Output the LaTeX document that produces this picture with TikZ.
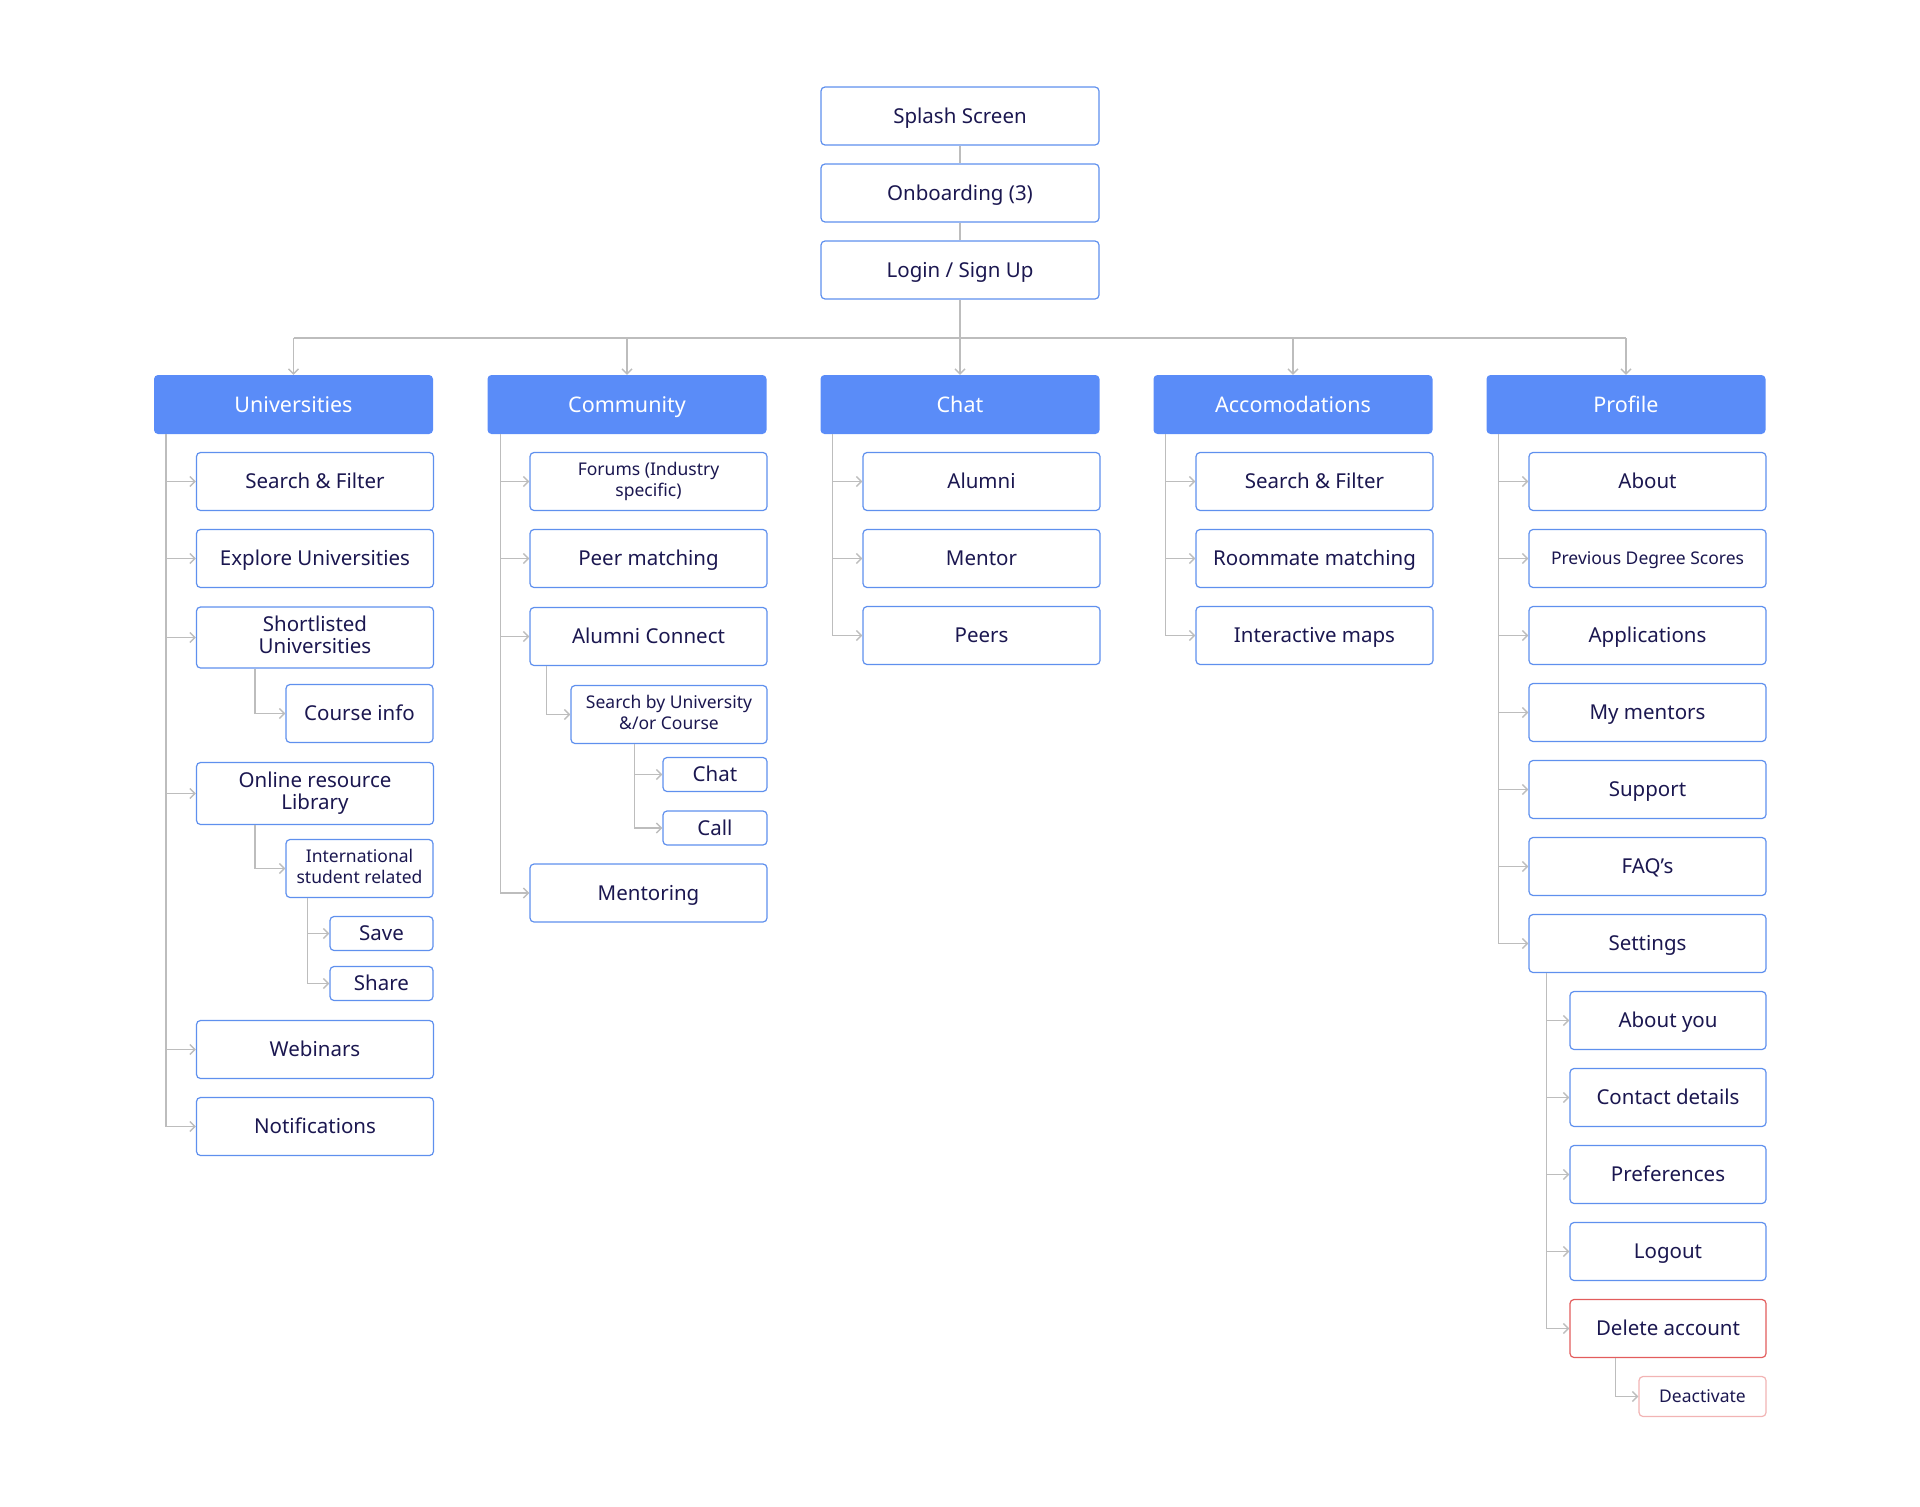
\documentclass[tikz,border=0pt]{standalone}
\usepackage{fontspec}
\setmainfont{Noto Sans}
\usepackage{tikz}
\usetikzlibrary{arrows.meta}

\definecolor{headblue}{HTML}{5A8CF8}
\definecolor{boxblue}{HTML}{5F90EE}
\definecolor{navy}{HTML}{1B1750}
\definecolor{linegray}{HTML}{BDBDBD}
\definecolor{delred}{HTML}{E35D5D}
\definecolor{palered}{HTML}{F2B4B4}

\newcommand{\hdfont}{\fontsize{21.5}{25}\selectfont}
\newcommand{\itfont}{\fontsize{20.5}{22.5}\selectfont}
\newcommand{\smfont}{\fontsize{17.5}{20.5}\selectfont}
\newcommand{\capstrut}{\rule[-0.25em]{0pt}{1.214em}}

\tikzstyle{head} = [rectangle, rounded corners=4pt, minimum width=279pt, minimum height=59pt, fill=headblue, text=white, font=\hdfont, execute at begin node=\capstrut]
\tikzstyle{item} = [rectangle, rounded corners=4pt, minimum width=237pt, minimum height=58pt, inner sep=2pt, draw=boxblue, line width=1.2pt, fill=white, text=navy, font=\itfont, align=center, execute at begin node=\capstrut, execute at end node=\capstrut]
\tikzstyle{subitem} = [item, minimum width=196pt]
\tikzstyle{smallitem} = [item, minimum height=34pt]
\tikzstyle{line} = [draw=linegray, line width=1.4pt]
\tikzstyle{arrow} = [line, -{Straight Barb[length=5pt,width=10pt]}]

\begin{document}
\begin{tikzpicture}[x=1pt, y=1pt, node distance=77pt]
\useasboundingbox (0,0) rectangle (1920,-1507);

\node(splash) [item, minimum width=278pt] at (960,-116) {Splash Screen};
\node(onboard) [item, minimum width=278pt, below of = splash] {Onboarding (3)};
\node(login) [item, minimum width=278pt, below of = onboard] {Login / Sign Up};
\coordinate (hub) at (960,-338);

\node(uni) [head] at (293.5,-404.5) {Universities};
\node(com) [head] at (627,-404.5) {Community};
\node(chat) [head] at (960,-404.5) {Chat};
\node(accom) [head] at (1293,-404.5) {Accomodations};
\node(profile) [head] at (1626,-404.5) {Profile};

% universities
\node(unisearch) [item, below of = uni, xshift=21.5pt] {Search \& Filter};
\node(uniexplore) [item, below of = unisearch] {Explore Universities};
\node(unishort) [item, below of = uniexplore, yshift=-2pt, minimum height=61pt] {Shortlisted\\Universities};
\node(unicourse) [item, below of = unishort, xshift=44.5pt, yshift=1pt, minimum width=147pt] {Course info};
\node(unilib) [item, below of = unicourse, xshift=-44.5pt, yshift=-3pt, minimum height=62pt] {Online resource\\Library};
\node(uniintl) [item, below of = unilib, xshift=44.5pt, yshift=2pt, minimum width=147pt, font=\smfont] {International\\student related};
\node(unisave) [smallitem, below of = uniintl, xshift=22pt, yshift=12pt, minimum width=103pt] {Save};
\node(unishare) [smallitem, below of = unisave, yshift=27pt, minimum width=103pt] {Share};
\node(uniweb) [item, below of = unishare, xshift=-66.5pt, yshift=11pt] {Webinars};
\node(uninotif) [item, below of = uniweb] {Notifications};

% community
\node(comforum) [item, below of = com, xshift=21.5pt, font=\smfont] {Forums (Industry\\specific)};
\node(compeer) [item, below of = comforum] {Peer matching};
\node(comalumni) [item, below of = compeer, yshift=-1pt] {Alumni Connect};
\node(comsearch) [subitem, below of = comalumni, xshift=20.5pt, yshift=-1pt, font=\smfont] {Search by University\\\&/or Course};
\node(comchat) [smallitem, below of = comsearch, xshift=46pt, yshift=17pt, minimum width=104pt] {Chat};
\node(comcall) [smallitem, below of = comchat, yshift=23.5pt, minimum width=104pt] {Call};
\node(comment) [item, below of = comcall, xshift=-66.5pt, yshift=12pt] {Mentoring};

% chat
\node(chatalumni) [item, below of = chat, xshift=21.5pt] {Alumni};
\node(chatmentor) [item, below of = chatalumni] {Mentor};
\node(chatpeers) [item, below of = chatmentor] {Peers};

% accomodations
\node(accsearch) [item, below of = accom, xshift=21.5pt] {Search \& Filter};
\node(accroom) [item, below of = accsearch] {Roommate matching};
\node(accmaps) [item, below of = accroom] {Interactive maps};

% profile
\node(about) [item, below of = profile, xshift=21.5pt] {About};
\node(prevdeg) [item, below of = about, font=\smfont] {Previous Degree Scores};
\node(apps) [item, below of = prevdeg] {Applications};
\node(mentors) [item, below of = apps] {My mentors};
\node(support) [item, below of = mentors] {Support};
\node(faq) [item, below of = support] {FAQ’s};
\node(settings) [item, below of = faq] {Settings};
\node(aboutyou) [subitem, below of = settings, xshift=20.5pt] {About you};
\node(contact) [subitem, below of = aboutyou] {Contact details};
\node(prefs) [subitem, below of = contact] {Preferences};
\node(logout) [subitem, below of = prefs] {Logout};
\node(delete) [subitem, below of = logout, draw=delred] {Delete account};
\node(deact) [item, below of = delete, xshift=34.5pt, yshift=9pt, minimum width=127pt, minimum height=40pt, draw=palered, font=\smfont] {Deactivate};

\draw [line] (splash) -- (onboard);
\draw [line] (onboard) -- (login);
\draw [line] (login) -- (hub);
\draw [line] (uni.north |- hub) -- (profile.north |- hub);
\foreach \h in {uni,com,chat,accom,profile}
  \draw [arrow] (\h.north |- hub) -- (\h);

\foreach \c in {unisearch,uniexplore,unishort,unilib,uniweb,uninotif}
  \draw [arrow] ([xshift=12pt]uni.south west) |- (\c);
\draw [arrow] ([xshift=59pt]unishort.south west) |- (unicourse);
\draw [arrow] ([xshift=59pt]unilib.south west) |- (uniintl);
\foreach \c in {unisave,unishare}
  \draw [arrow] ([xshift=22pt]uniintl.south west) |- (\c);

\foreach \c in {comforum,compeer,comalumni,comment}
  \draw [arrow] ([xshift=13pt]com.south west) |- (\c);
\draw [arrow] ([xshift=17pt]comalumni.south west) |- (comsearch);
\foreach \c in {comchat,comcall}
  \draw [arrow] ([xshift=64pt]comsearch.south west) |- (\c);

\foreach \c in {chatalumni,chatmentor,chatpeers}
  \draw [arrow] ([xshift=12pt]chat.south west) |- (\c);
\foreach \c in {accsearch,accroom,accmaps}
  \draw [arrow] ([xshift=12pt]accom.south west) |- (\c);

\foreach \c in {about,prevdeg,apps,mentors,support,faq,settings}
  \draw [arrow] ([xshift=12pt]profile.south west) |- (\c);
\foreach \c in {aboutyou,contact,prefs,logout,delete}
  \draw [arrow] ([xshift=18pt]settings.south west) |- (\c);
\draw [arrow] ([xshift=46pt]delete.south west) |- (deact);

\end{tikzpicture}
\end{document}
